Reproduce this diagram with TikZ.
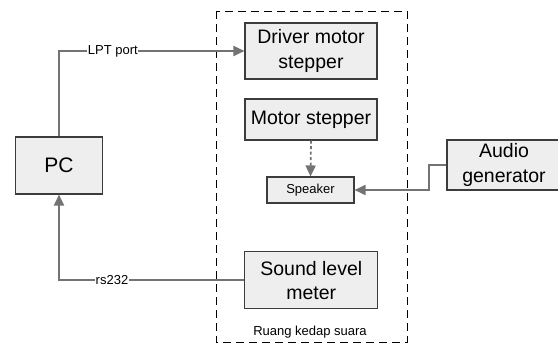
\documentclass[tikz,border=0pt]{standalone}
\usepackage{fontspec}
\setmainfont{Liberation Sans}
\usetikzlibrary{arrows.meta}
\definecolor{boxF}{HTML}{EEEEEE}
\definecolor{boxD}{HTML}{3C3C3C}
\definecolor{lineG}{HTML}{737373}

\begin{document}
\begin{tikzpicture}[x=1pt, y=-1pt,
  blk/.style={draw=boxD, fill=boxF, line width=1.1pt, align=center,
     inner sep=0pt, font=\fontsize{19.5}{24.5}\selectfont},
  conn/.style={draw=lineG, line width=1.8pt,
     -{Triangle[length=11pt,width=10pt]}},
  lbl/.style={fill=white, inner sep=0.6pt, font=\fontsize{13}{15}\selectfont}]
  \useasboundingbox (0,0) rectangle (558,345);
  % sound-proof room
  \draw[line width=0.9pt, dash pattern=on 8pt off 5pt] (216,11) rectangle (407,342);
  \node[anchor=base, font=\fontsize{13}{15}\selectfont] (room) at (310,335)
     {Ruang kedap suara};
  % blocks
  \node[blk, minimum width=132pt, minimum height=56pt] (drv) at (311,51)
     {Driver motor\\stepper};
  \node[blk, minimum width=132pt, minimum height=41pt] (mot) at (311,119.5)
     {Motor stepper};
  \node[blk, minimum width=87pt, minimum height=26pt,
     font=\fontsize{13}{15}\selectfont] (spk) at (310.5,190) {Speaker};
  \node[blk, minimum width=133pt, minimum height=57pt] (slm) at (311.3,280.3)
     {Sound level\\meter};
  \node[blk, minimum width=87pt, minimum height=57pt,
     font=\fontsize{21}{25}\selectfont] (pc) at (59,165.5) {PC};
  \node[blk, minimum width=114pt, minimum height=50pt] (ag) at (504,165)
     {Audio\\generator};
  \coordinate (agknee) at (429,165);
  % connectors
  \draw[conn] (pc.north) |- node[lbl, pos=0.645] {LPT port} (drv.west);
  \draw[conn] (slm.west) -| node[lbl, pos=0.357] {rs232} (pc.south);
  \draw[conn, dash pattern=on 3pt off 2.5pt] (mot.south) -- (spk.north);
  \draw[conn] (ag.west) -- (agknee) |- (spk.east);
\end{tikzpicture}
\end{document}
